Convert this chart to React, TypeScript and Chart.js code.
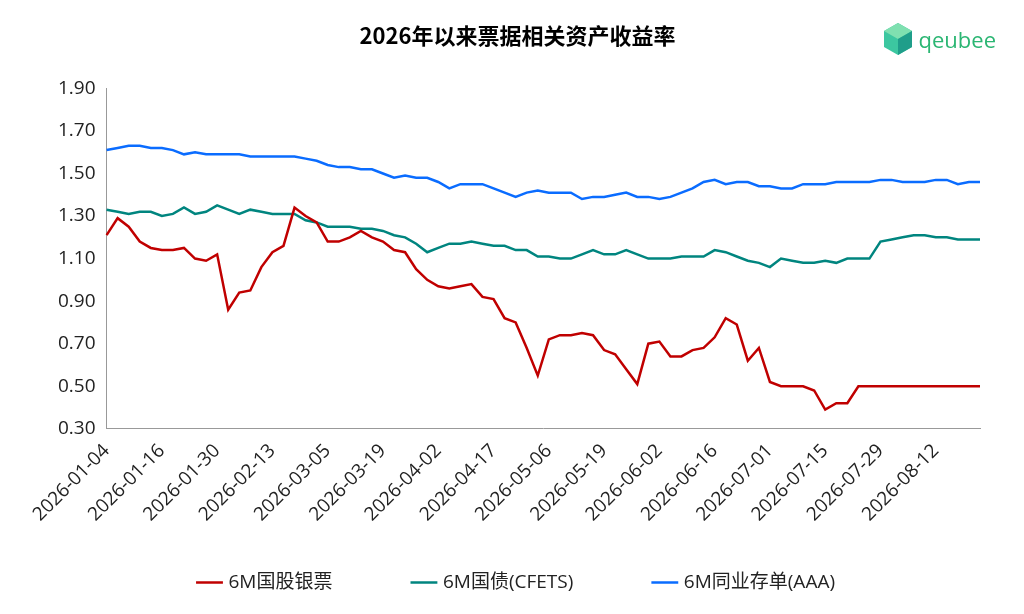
import React, { useEffect, useRef } from "react";
import { Chart, registerables } from "chart.js";
Chart.register(...registerables);

const tickLabels = ["2026-01-04","2026-01-16","2026-01-30","2026-02-13","2026-03-05","2026-03-19","2026-04-02","2026-04-17","2026-05-06","2026-05-19","2026-06-02","2026-06-16","2026-07-01","2026-07-15","2026-07-29","2026-08-12"];

const billYield = [1.21,1.29,1.25,1.18,1.15,1.14,1.14,1.15,1.10,1.09,1.12,0.86,0.94,0.95,1.06,1.13,1.16,1.34,1.30,1.27,
1.18,1.18,1.20,1.23,1.20,1.18,1.14,1.13,1.05,1.00,0.97,0.96,0.97,0.98,0.92,0.91,0.82,0.80,0.68,0.55,
0.72,0.74,0.74,0.75,0.74,0.67,0.65,0.58,0.51,0.70,0.71,0.64,0.64,0.67,0.68,0.73,0.82,0.79,0.62,0.68,
0.52,0.50,0.50,0.50,0.48,0.39,0.42,0.42,0.50,0.50,0.50,0.50,0.50,0.50,0.50,0.50,0.50,0.50,0.50,0.50];

const govYield = [1.33,1.32,1.31,1.32,1.32,1.30,1.31,1.34,1.31,1.32,1.35,1.33,1.31,1.33,1.32,1.31,1.31,1.31,1.28,1.27,
1.25,1.25,1.25,1.24,1.24,1.23,1.21,1.20,1.17,1.13,1.15,1.17,1.17,1.18,1.17,1.16,1.16,1.14,1.14,1.11,
1.11,1.10,1.10,1.12,1.14,1.12,1.12,1.14,1.12,1.10,1.10,1.10,1.11,1.11,1.11,1.14,1.13,1.11,1.09,1.08,
1.06,1.10,1.09,1.08,1.08,1.09,1.08,1.10,1.10,1.10,1.18,1.19,1.20,1.21,1.21,1.20,1.20,1.19,1.19,1.19];

const ncdYield = [1.61,1.62,1.63,1.63,1.62,1.62,1.61,1.59,1.60,1.59,1.59,1.59,1.59,1.58,1.58,1.58,1.58,1.58,1.57,1.56,
1.54,1.53,1.53,1.52,1.52,1.50,1.48,1.49,1.48,1.48,1.46,1.43,1.45,1.45,1.45,1.43,1.41,1.39,1.41,1.42,
1.41,1.41,1.41,1.38,1.39,1.39,1.40,1.41,1.39,1.39,1.38,1.39,1.41,1.43,1.46,1.47,1.45,1.46,1.46,1.44,
1.44,1.43,1.43,1.45,1.45,1.45,1.46,1.46,1.46,1.46,1.47,1.47,1.46,1.46,1.46,1.47,1.47,1.45,1.46,1.46];

const seriesNames = ["6M国股银票", "6M国债(CFETS)", "6M同业存单(AAA)"];
const labels = billYield.map((_, i) => (i % 5 === 0 ? tickLabels[i / 5] ?? "" : ""));

export default function App() {
  const ref = useRef<HTMLCanvasElement>(null);
  useEffect(() => {
    const font = "'Open Sans', 'Noto Sans CJK SC', sans-serif";
    const mk = (label: string, data: number[], color: string) => ({
      label, data, borderColor: color, backgroundColor: color, borderWidth: 2.5,
      pointRadius: 0, tension: 0, fill: false,
    });
    const chart = new Chart(ref.current!, {
      type: "line",
      data: {
        labels,
        datasets: [
          mk(seriesNames[0], billYield, "#C00000"),
          mk(seriesNames[1], govYield, "#00857F"),
          mk(seriesNames[2], ncdYield, "#0A6CFF"),
        ],
      },
      options: {
        animation: false,
        responsive: true,
        maintainAspectRatio: false,
        layout: { padding: { left: 47, right: 36, top: 0, bottom: 4 } },
        plugins: {
          title: {
            display: true, text: "2026年以来票据相关资产收益率", color: "#000",
            font: { family: "'Noto Sans CJK SC', sans-serif", size: 22, weight: "bold" },
            padding: { top: 14, bottom: 40 },
          },
          legend: {
            position: "bottom",
            labels: {
              usePointStyle: true, pointStyle: "line", boxWidth: 50, padding: 44,
              color: "#222", font: { family: font, size: 19 },
              generateLabels: (c: any) =>
                Chart.defaults.plugins.legend.labels.generateLabels(c).map((l: any, i: number) => ({
                  ...l, text: i < 2 ? l.text + "\u2003\u2003" : l.text,
                })),
            },
          },
          tooltip: { enabled: false },
        },
        scales: {
          x: {
            grid: { display: false },
            border: { display: true, color: "#999" },
            ticks: {
              autoSkip: false, maxRotation: 45, minRotation: 45, color: "#222",
              font: { family: font, size: 19 },
            },
          },
          y: {
            min: 0.3, max: 1.9,
            grid: { display: false, drawTicks: true },
            border: { display: true, color: "#999" },
            ticks: {
              stepSize: 0.2, color: "#222", font: { family: font, size: 19 },
              callback: (v: any) => Number(v).toFixed(2),
            },
          },
        },
      },
    });
    return () => chart.destroy();
  }, []);
  return (
    <div style={{ position: "relative", width: 1008, height: 598 }}>
      <canvas ref={ref} />
      <div style={{ position: "absolute", right: 20, top: 14, display: "flex", alignItems: "center", fontFamily: "'Open Sans', sans-serif", fontSize: 22, color: "#2bb673" }}>
        <svg width="34" height="34" viewBox="0 0 34 34" style={{ marginRight: 4 }}>
          <polygon points="17,1 31,9 31,25 17,33 3,25 3,9" fill="#3cc7a0" />
          <polygon points="17,1 31,9 17,17 3,9" fill="#7fe0b0" />
          <polygon points="17,17 31,9 31,25 17,33" fill="#1f9e8a" />
        </svg>
        qeubee
      </div>
    </div>
  );
}
